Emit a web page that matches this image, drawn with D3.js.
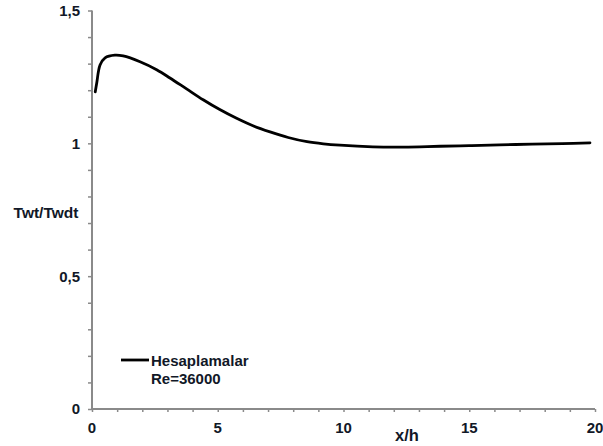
<!DOCTYPE html>
<html><head><meta charset="utf-8">
<script src="https://cdn.jsdelivr.net/npm/d3@7"></script>
<style>body{margin:0;background:#fff;} svg{display:block;}</style>
</head><body>
<script>
const xVals = [0.13, 0.19, 0.32, 0.52, 0.91, 1.24, 1.91, 2.57, 3.1, 3.76, 4.42, 5.08, 5.75, 6.4, 7.08, 7.8, 8.55, 9.2, 9.86, 11.17, 12.2, 13.04, 13.84, 15.0, 16.2, 17.5, 18.7, 19.8];
const yVals = [1.194, 1.228, 1.295, 1.322, 1.332, 1.329, 1.307, 1.277, 1.246, 1.205, 1.164, 1.127, 1.094, 1.066, 1.043, 1.022, 1.006, 0.998, 0.993, 0.987, 0.986, 0.987, 0.989, 0.991, 0.994, 0.997, 0.999, 1.002];
const yTickLabels = [[0,"0"],[0.5,"0,5"],[1,"1"],[1.5,"1,5"]];
const xTickLabels = [[0,"0"],[5,"5"],[10,"10"],[15,"15"],[20,"20"]];
const legendLines = ["Hesaplamalar","Re=36000"];

const W=603,H=446;
const svg=d3.select("body").append("svg").attr("width",W).attr("height",H);
const x=d3.scaleLinear().domain([0,20]).range([92,595]);
const y=d3.scaleLinear().domain([0,1.5]).range([409,10.5]);
const axisCol="#8a8a8a", txtCol="#111827";

const yAxis=d3.axisLeft(y).tickValues(d3.range(0,1.501,0.1)).tickSize(4).tickFormat("");
const gy=svg.append("g").attr("transform","translate(92,0)").call(yAxis);
gy.select(".domain").attr("stroke",axisCol).attr("stroke-width",2).attr("d",`M0,${y(1.5)}V${y(0)}`);
gy.selectAll(".tick line").attr("stroke",axisCol).attr("stroke-width",1.5);
const xAxis=d3.axisBottom(x).tickValues(d3.range(0,20.01,1)).tickSize(3).tickFormat("");
const gx=svg.append("g").attr("transform","translate(0,409)").call(xAxis);
gx.select(".domain").attr("stroke",axisCol).attr("stroke-width",2).attr("d",`M${x(0)},0H${x(20)}`);
gx.selectAll(".tick line").attr("stroke",axisCol).attr("stroke-width",1.5);

const font="Liberation Sans, Arial, sans-serif";
svg.selectAll("text.yl").data(yTickLabels).enter().append("text")
  .attr("x",80).attr("y",d=>y(d[0])).attr("dy","0.36em").attr("text-anchor","end")
  .attr("font-family",font).attr("font-weight","bold").attr("font-size",15).attr("fill",txtCol).text(d=>d[1]);
svg.selectAll("text.xl").data(xTickLabels).enter().append("text")
  .attr("x",d=>x(d[0])).attr("y",428).attr("dy","0.36em").attr("text-anchor","middle")
  .attr("font-family",font).attr("font-weight","bold").attr("font-size",15).attr("fill",txtCol).text(d=>d[1]);
svg.append("text").attr("x",407).attr("y",435).attr("dy","0.36em").attr("text-anchor","middle")
  .attr("font-family",font).attr("font-weight","bold").attr("font-size",16.5).attr("fill",txtCol).text("x/h");
svg.append("text").attr("x",46).attr("y",212).attr("dy","0.36em").attr("text-anchor","middle")
  .attr("font-family",font).attr("font-weight","bold").attr("font-size",15.5).attr("fill",txtCol).text("Twt/Twdt");

const line=d3.line().x((d,i)=>x(xVals[i])).y(d=>y(d)).curve(d3.curveCatmullRom.alpha(0.5));
svg.append("path").datum(yVals).attr("d",line).attr("fill","none").attr("stroke","#000").attr("stroke-width",2.8).attr("stroke-linecap","round");

svg.append("line").attr("x1",121).attr("x2",149).attr("y1",360).attr("y2",360).attr("stroke","#000").attr("stroke-width",2.8);
svg.selectAll("text.lg").data(legendLines).enter().append("text")
  .attr("x",151).attr("y",(d,i)=>361+i*18).attr("dy","0.36em")
  .attr("font-family",font).attr("font-weight","bold").attr("font-size",15).attr("fill",txtCol).text(d=>d);
</script>
</body></html>
